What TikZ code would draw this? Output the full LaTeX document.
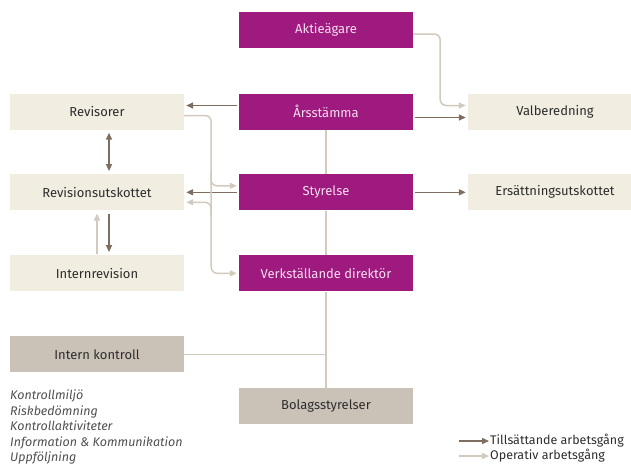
\documentclass[tikz,border=0pt]{standalone}
\usepackage{fontspec}
\setmainfont{Fira Sans}
\usetikzlibrary{arrows.meta}

\definecolor{lila}{RGB}{158,26,126}
\definecolor{lilatext}{RGB}{246,222,240}
\definecolor{beige}{RGB}{242,237,225}
\definecolor{graa}{RGB}{202,194,183}
\definecolor{morkpil}{RGB}{125,110,95}
\definecolor{ljuspil}{RGB}{210,202,190}
\definecolor{brodtext}{RGB}{45,45,45}
\definecolor{listtext}{RGB}{80,80,80}

\tikzset{
  box/.style={minimum width=174pt, minimum height=36pt, inner sep=0pt,
    font=\fontsize{13}{15}\selectfont},
  lilabox/.style={box, fill=lila, text=lilatext},
  ljusbox/.style={box, fill=beige, text=brodtext},
  graabox/.style={box, fill=graa, text=brodtext},
  tills/.style={->, draw=morkpil, line width=1.5pt},
  oper/.style={->, draw=ljuspil, line width=1.5pt, rounded corners=6pt},
  linje/.style={draw=ljuspil, line width=1.5pt},
  legend/.style={anchor=west, inner sep=1pt, text=brodtext,
    font=\fontsize{12.5}{14}\selectfont}
}

\begin{document}
\begin{tikzpicture}[x=1pt,y=-1pt,>={Triangle[length=7pt,width=6pt]}]
    \clip (0,0) rectangle (631,464);

    % the purple column
    \node[lilabox] (aktie) at (326,30)    {Aktieägare};
    \node[lilabox] (arsst) at (326,111.5) {Årsstämma};
    \node[lilabox] (styr)  at (326,192.3) {Styrelse};
    \node[lilabox] (vd)    at (326,273.3) {Verkställande direktör};
    \node[graabox] (bolag) at (326,406)   {Bolagsstyrelser};

    % left and right columns
    \node[ljusbox] (revisorer) at (97,111.5) {Revisorer};
    \node[ljusbox] (revutsk)   at (97,192.3) {Revisionsutskottet};
    \node[ljusbox] (internrev) at (97,273.3) {Internrevision};
    \node[graabox] (intkontr)  at (97,354.3) {Intern kontroll};
    \node[ljusbox] (valb)   at (555,111.5) {Valberedning};
    \node[ljusbox] (ersatt) at (555,192.3) {Ersättningsutskottet};

    % the list under intern kontroll
    \node[anchor=north west, align=left, inner sep=0pt, text=listtext,
          font=\fontsize{12.5}{15.5}\selectfont\itshape] (lista) at (10,390)
          {Kontrollmiljö\\Riskbedömning\\Kontrollaktiviteter\\
           Information \& Kommunikation\\Uppföljning};

    % thin line down the middle
    \draw[linje] (arsst.south) -- (styr.north);
    \draw[linje] (styr.south) -- (vd.north);
    \draw[linje] (vd.south) -- (bolag.north);
    \coordinate (mote) at (vd.south |- intkontr.east);
    \draw[linje] (intkontr.east) -- (mote);

    % tillsaettande (dark) arrows
    \draw[tills, shorten >=2pt, shorten <=2pt] ([yshift=6pt]arsst.west) -- ([yshift=6pt]revisorer.east);
    \draw[tills, shorten >=2pt, shorten <=2pt] ([yshift=-6pt]arsst.east) -- ([yshift=-6pt]valb.west);
    \draw[tills, shorten >=2pt, shorten <=2pt] (styr.west) -- (revutsk.east);
    \draw[tills, shorten >=2pt, shorten <=2pt] (styr.east) -- (ersatt.west);
    \draw[tills, <->, shorten >=3pt, shorten <=3pt] ([xshift=12pt]revisorer.south) -- ([xshift=12pt]revutsk.north);
    \draw[tills, shorten >=3pt, shorten <=3pt] ([xshift=12pt]revutsk.south) -- ([xshift=12pt]internrev.north);

    % operativ (light) arrows
    \draw[oper, shorten >=2pt] ([yshift=-4pt]aktie.east) -- ++(27,0) |- ([yshift=6pt]valb.west);
    \draw[oper, shorten >=2pt] ([yshift=-4pt]revisorer.east) -- ++(27,0) |- (vd.west);
    \coordinate (gren1) at (211,172);
    \coordinate (gren2) at (211,216);
    \draw[oper, shorten >=2pt] (gren1) |- ([yshift=6.5pt]styr.west);
    \draw[oper, shorten >=2pt] (gren2) |- ([yshift=-10pt]revutsk.east);
    \draw[oper, shorten >=3pt, shorten <=1pt] (internrev.north) -- (revutsk.south);

    % legend
    \node[legend] (legtills) at (489,441) {Tillsättande arbetsgång};
    \node[legend] (legoper)  at (489,456) {Operativ arbetsgång};
    \coordinate (legstart1) at (459,441);
    \coordinate (legstart2) at (459,456);
    \draw[tills] (legstart1) -- (legtills.west);
    \draw[oper] (legstart2) -- (legoper.west);
\end{tikzpicture}
\end{document}
